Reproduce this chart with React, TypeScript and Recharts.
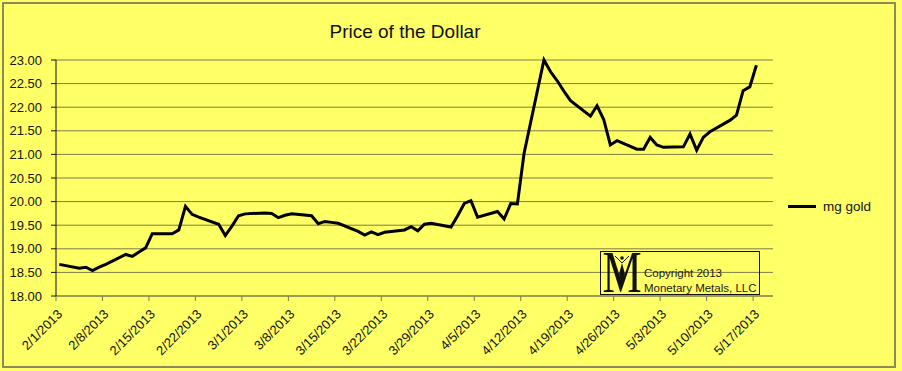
import { LineChart, Line, XAxis, YAxis, CartesianGrid } from 'recharts';

// price of one US dollar, in milligrams of gold (London fix, weekdays)
const dates = [
  '2/1/2013', '2/4/2013', '2/5/2013', '2/6/2013', '2/7/2013', '2/8/2013',
  '2/11/2013', '2/12/2013', '2/13/2013', '2/14/2013', '2/15/2013',
  '2/18/2013', '2/19/2013', '2/20/2013', '2/21/2013', '2/22/2013',
  '2/25/2013', '2/26/2013', '2/27/2013', '2/28/2013', '3/1/2013',
  '3/4/2013', '3/5/2013', '3/6/2013', '3/7/2013', '3/8/2013',
  '3/11/2013', '3/12/2013', '3/13/2013', '3/14/2013', '3/15/2013',
  '3/18/2013', '3/19/2013', '3/20/2013', '3/21/2013', '3/22/2013',
  '3/25/2013', '3/26/2013', '3/27/2013', '3/28/2013', '3/29/2013',
  '4/1/2013', '4/2/2013', '4/3/2013', '4/4/2013', '4/5/2013',
  '4/8/2013', '4/9/2013', '4/10/2013', '4/11/2013', '4/12/2013',
  '4/15/2013', '4/16/2013', '4/17/2013', '4/18/2013', '4/19/2013',
  '4/22/2013', '4/23/2013', '4/24/2013', '4/25/2013', '4/26/2013',
  '4/29/2013', '4/30/2013', '5/1/2013', '5/2/2013', '5/3/2013',
  '5/6/2013', '5/7/2013', '5/8/2013', '5/9/2013', '5/10/2013',
  '5/13/2013', '5/14/2013', '5/15/2013', '5/16/2013', '5/17/2013',
];

const mgGold = [
  18.67, 18.59, 18.61, 18.54, 18.61, 18.67,
  18.88, 18.84, 18.93, 19.02, 19.32,
  19.32, 19.40, 19.90, 19.73, 19.67,
  19.52, 19.28, 19.48, 19.70, 19.74,
  19.76, 19.75, 19.66, 19.71, 19.74,
  19.70, 19.53, 19.58, 19.56, 19.54,
  19.37, 19.29, 19.36, 19.30, 19.35,
  19.40, 19.47, 19.38, 19.52, 19.54,
  19.46, 19.70, 19.96, 20.02, 19.67,
  19.79, 19.63, 19.96, 19.95, 21.02,
  23.00, 22.75, 22.56, 22.34, 22.14,
  21.81, 22.03, 21.74, 21.20, 21.29,
  21.11, 21.11, 21.36, 21.20, 21.15,
  21.16, 21.43, 21.09, 21.36, 21.48,
  21.72, 21.83, 22.35, 22.43, 22.89,
];

const tickDates = [
  '2/1/2013', '2/8/2013', '2/15/2013', '2/22/2013', '3/1/2013', '3/8/2013',
  '3/15/2013', '3/22/2013', '3/29/2013', '4/5/2013', '4/12/2013',
  '4/19/2013', '4/26/2013', '5/3/2013', '5/10/2013', '5/17/2013',
];

const yTicks = [18, 18.5, 19, 19.5, 20, 20.5, 21, 21.5, 22, 22.5, 23];

const BG = '#ffff66';
const GRID = '#7d7c4c';
const FONT = '"Liberation Sans", Arial, sans-serif';

// days since the first date
const toDay = (s: string) => {
  const [m, d, y] = s.split('/').map(Number);
  const [m0, d0, y0] = dates[0].split('/').map(Number);
  return Math.round((Date.UTC(y, m - 1, d) - Date.UTC(y0, m0 - 1, d0)) / 86400000);
};

// excel's date axis puts each point in the middle of its day
const data = dates.map((s, i) => ({ day: toDay(s) + 0.5, value: mgGold[i] }));
const xTicks = tickDates.map(toDay);
const tickLabel = (v: number) => tickDates[xTicks.indexOf(v)] ?? '';

function DateTick(props: any) {
  const { x, y, payload } = props;
  return (
    <g transform={`translate(${x + 7},${y + 12}) rotate(-45)`}>
      <text x={0} y={0} textAnchor="end" fontSize={13} fill="#141414" fontFamily={FONT}>
        {tickLabel(payload.value)}
      </text>
    </g>
  );
}

function Logo() {
  return (
    <svg width={40} height={42} overflow="visible" style={{ position: 'absolute', left: 602, top: 252 }}>
      <text x={20} y={29.8} textAnchor="middle" fontSize={44} fontFamily='"Liberation Serif", serif'
        fill="#111" transform="scale(1,1.35)">M</text>
      <circle cx={20} cy={6} r={1.8} fill="#111" />
      <path d="M13 4 L20 11 L27 4" stroke="#111" strokeWidth={1} fill="none" />
      <path d="M20 11 L23 22 L20 35 L17 22 Z" fill="#111" />
    </svg>
  );
}

export default function App() {
  return (
    <div style={{ position: 'fixed', left: 0, top: 0, width: 902, height: 371, background: BG }}>
      <div style={{ position: 'absolute', left: 2, top: 2, width: 890, height: 362, border: '2px solid #8a8a5c' }} />
      <div style={{ position: 'absolute', left: 0, top: 21, width: 810, textAlign: 'center', fontFamily: FONT, fontSize: 19, color: '#111' }}>
        Price of the Dollar
      </div>
      <div style={{ position: 'absolute', left: 0, top: 0 }}>
        <LineChart width={902} height={371} data={data} margin={{ top: 60, right: 129, left: 10, bottom: 0 }}>
          <CartesianGrid vertical={false} stroke={GRID} strokeWidth={1} />
          <XAxis
            dataKey="day"
            type="number"
            domain={[0, 108]}
            ticks={xTicks}
            interval={0}
            height={75}
            stroke={GRID}
            tickSize={5}
            tickMargin={2}
            tick={<DateTick />}
          />
          <YAxis
            type="number"
            domain={[18, 23]}
            ticks={yTicks}
            interval={0}
            width={46}
            stroke="#111"
            tickSize={5}
            tickMargin={9}
            tickFormatter={(v: number) => v.toFixed(2)}
            tick={{ fontSize: 13, fill: '#141414', fontFamily: FONT }}
          />
          <Line type="linear" dataKey="value" name="mg gold" stroke="#000" strokeWidth={3}
            dot={false} isAnimationActive={false} />
        </LineChart>
      </div>
      <div style={{ position: 'absolute', left: 788, top: 199, display: 'flex', alignItems: 'center', fontFamily: FONT, fontSize: 13.5, color: '#141414' }}>
        <div style={{ width: 28, height: 3, background: '#000', marginRight: 7 }} />
        mg gold
      </div>
      <div style={{ position: 'absolute', left: 600, top: 251, width: 158, height: 42, border: '1px solid #111' }}>
      </div>
      <Logo />
      <div style={{ position: 'absolute', left: 644, top: 266, fontFamily: FONT, fontSize: 11.5, lineHeight: '15px', color: '#1a1a1a' }}>
        Copyright 2013<br />Monetary Metals, LLC
      </div>
    </div>
  );
}
